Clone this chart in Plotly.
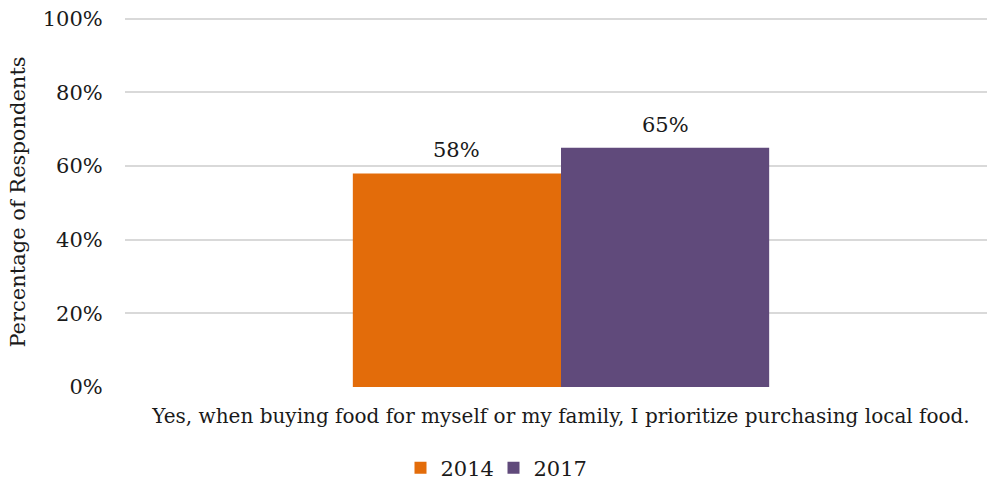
import plotly.graph_objects as go

categories = ["Yes, when buying food for myself or my family, I prioritize purchasing local food."]
years = ["2014", "2017"]
values_2014 = [58]
values_2017 = [65]
colors = {"2014": "#E36C0A", "2017": "#604A7B"}
y_ticks = [0, 20, 40, 60, 80, 100]
y_tick_labels = ["0%", "20%", "40%", "60%", "80%", "100%"]

FONT = "DejaVu Serif"
TEXT = "#1a1a1a"
BARGAP = 0.517

fig = go.Figure()
for i, (year, vals) in enumerate(zip(years, [values_2014, values_2017])):
    fig.add_trace(go.Bar(
        x=list(range(len(categories))), y=vals, name=year,
        marker=dict(color=colors[year], line=dict(width=0)),
    ))

# value labels above each bar, placed on the bar tops
bar_w = (1 - BARGAP) / 2
for i, vals in enumerate([values_2014, values_2017]):
    for c, v in enumerate(vals):
        fig.add_annotation(
            x=c - bar_w / 2 + i * bar_w, y=v, xref="x", yref="y",
            text=f"{v}%", showarrow=False, yanchor="bottom", yshift=9,
            font=dict(family=FONT, size=21, color=TEXT),
        )

fig.update_layout(
    width=987, height=481,
    margin=dict(l=125, r=0, t=17, b=94, autoexpand=False),
    paper_bgcolor="white", plot_bgcolor="white",
    barmode="group", bargap=BARGAP, bargroupgap=0,
    font=dict(family=FONT, size=20, color=TEXT),
    showlegend=True,
    legend=dict(orientation="h", xref="container", yref="container",
                x=0.5, xanchor="center", y=0.027, yanchor="middle",
                font=dict(family=FONT, size=21), entrywidth=48, traceorder="normal"),
)
fig.update_xaxes(
    range=[-0.5058, 0.4942], showgrid=False, showline=False, zeroline=False,
    tickvals=list(range(len(categories))), ticktext=categories,
    tickfont=dict(family=FONT, size=20), ticks="outside", ticklen=11, tickcolor="rgba(0,0,0,0)",
)
fig.update_yaxes(
    range=[0, 100.5], tickvals=y_ticks, ticktext=y_tick_labels,
    showgrid=True, gridcolor="#d9d9d9", gridwidth=1.5,
    zeroline=False, showline=False,
    ticks="outside", ticklen=17, tickcolor="rgba(0,0,0,0)",
    tickfont=dict(family=FONT, size=21),
    title=dict(text="Percentage of Respondents", font=dict(family=FONT, size=21), standoff=11),
)

fig.write_html("out.html")
